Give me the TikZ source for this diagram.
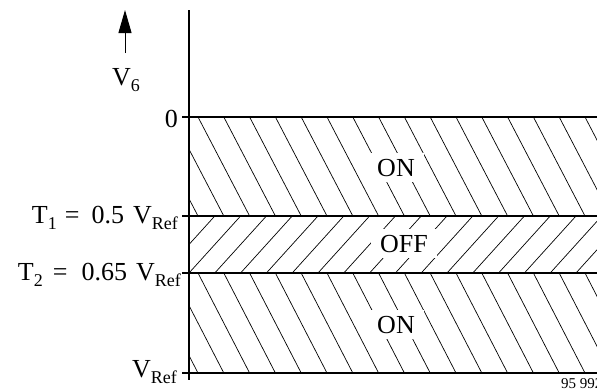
\documentclass[tikz,border=0pt]{standalone}
\usepackage{fontspec}
\setmainfont{Liberation Serif}
\usetikzlibrary{arrows.meta}
\newcommand{\lo}[1]{\raisebox{-6pt}{\fontsize{18pt}{18pt}\selectfont #1}}
\begin{document}
\begin{tikzpicture}[x=1pt,y=-1pt,font=\fontsize{26pt}{28pt}\selectfont,
        ax/.style={line width=1.8pt},
        lvl/.style={line width=1.6pt},
        hatch/.style={line width=0.7pt},
        lab/.style={anchor=base east,inner sep=0pt},
        band/.style={anchor=base,fill=white,inner xsep=9pt,inner ysep=6pt}]
        \useasboundingbox (0,0) rectangle (597,391);
        \begin{scope} \clip (189,117) rectangle (597,216);
          \foreach \k in {-2,...,16} \draw[hatch] ({198+25.8*\k},117) -- ({198+25.8*(\k+2)},216);
        \end{scope}
        \begin{scope} \clip (189,216) rectangle (597,273);
          \foreach \k in {-2,...,16} \draw[hatch] ({189+25.8*\k},273) -- ({189+25.8*(\k+2)},216);
        \end{scope}
        \begin{scope} \clip (189,273) rectangle (597,373);
          \foreach \k in {-2,...,16} \draw[hatch] ({198+25.8*\k},273) -- ({198+25.8*(\k+2)},373);
        \end{scope}
        \node[band] (on1) at (396,176) {ON}; \node[band] (off) at (404,252) {OFF}; \node[band] (on2) at (396,333) {ON};
        \foreach \y in {117,216,273,373} \draw[lvl] (182,\y) -- (597,\y);
        \draw[ax] (189,10) -- (189,380);
        \coordinate (vlo) at (125,53); \coordinate (vhi) at (125,10);
        \draw[line width=1pt,-{Triangle[length=23pt,width=13pt]}] (vlo) -- (vhi);
        \node[anchor=base west,inner sep=0pt] (v6) at (112,85) {V\lo{6}};
        \node[lab] (l0) at (178,127) {0};
        \node[lab] (t1) at (178,223) {T\lo{1}\hspace{8pt}=\hspace{12pt}0.5\hspace{9pt}V\lo{Ref}};
        \node[lab] (t2) at (181,280) {T\lo{2}\hspace{10pt}=\hspace{14pt}0.65\hspace{9pt}V\lo{Ref}};
        \node[lab] (vr) at (177,377) {V\lo{Ref}};
        \node[anchor=base west,inner sep=0pt,font=\fontsize{15pt}{16pt}\selectfont] (fig) at (561,388) {95 992};
      \end{tikzpicture}
\end{document}
